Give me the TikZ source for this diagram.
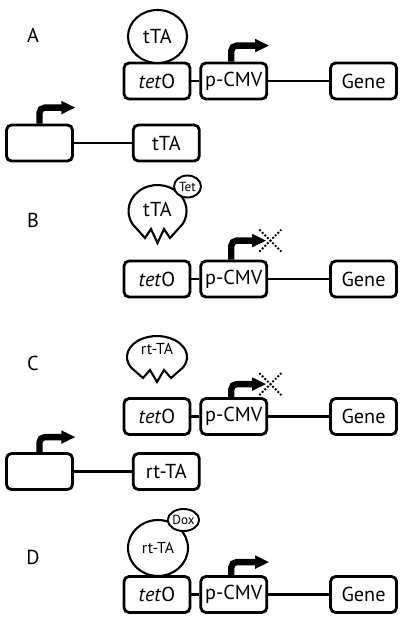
\documentclass[tikz,border=0pt]{standalone}
\usepackage{fontspec}
\setmainfont{PT Sans}
\usetikzlibrary{shapes.geometric, arrows.meta, positioning}
\tikzstyle{part} = [rectangle, rounded corners=0.1cm, minimum width=1.32cm, minimum height=0.72cm, inner sep=0pt, text centered, draw=black, line width=1.6pt, font=\fontsize{11.5}{13}\selectfont]
\tikzstyle{protein} = [ellipse, draw=black, line width=1.2pt, inner sep=0pt, fill=white, font=\fontsize{11.5}{13}\selectfont]
\tikzstyle{drug} = [ellipse, draw=black, line width=1.1pt, inner sep=0pt, fill=white, minimum width=0.54cm, minimum height=0.44cm, font=\fontsize{7.5}{8}\selectfont]
\tikzstyle{pacman} = [draw=black, line width=1.2pt]
\tikzstyle{link} = [line width=1.4pt]
\tikzstyle{prom} = [line width=3.6pt, rounded corners=3pt, -{Triangle[length=8pt,width=7pt]}]
\tikzstyle{block} = [densely dotted, line width=1.1pt]
\tikzstyle{panel} = [font=\fontsize{11.5}{13}\selectfont]

\begin{document}
\begin{tikzpicture}[x=0.02cm, y=0.02cm]
	\useasboundingbox (0,0) rectangle (400,-619);
	% A
	\node[panel] (labA) at (33,-35) {A};
	\node[part] (tetA) at (157,-81) {\textit{tet}O};
	\node[part, right=0.16cm of tetA] (cmvA) {p-CMV};
	\node[part, right=1.22cm of cmvA] (geneA) {Gene};
	\node[protein, minimum width=1.18cm, minimum height=1.06cm] (ttaA) at (157.5,-36.5) {tTA};
	\draw[link] (tetA) -- (cmvA);
	\draw[link] (cmvA) -- (geneA);
	\draw[prom] ([xshift=-0.05cm]cmvA.north) |- ++(38,16) coordinate (tipA);
	\node[part] (promA) at (39.5,-143) {};
	\node[part, right=1.16cm of promA] (ttaboxA) {tTA};
	\draw[link] (promA) -- (ttaboxA);
	\draw[prom] (promA.north) |- ++(36,16) coordinate (tipA2);
	% B
	\node[panel] (labB) at (33,-220) {B};
	\node[part] (tetB) at (157,-279) {\textit{tet}O};
	\node[part, right=0.16cm of tetB] (cmvB) {p-CMV};
	\node[part, right=1.22cm of cmvB] (geneB) {Gene};
	\draw[pacman] (132.4,-224) arc[start angle=210, end angle=-30, x radius=29, y radius=26]
		-- (170,-238) -- (164,-229) -- (157.5,-243) -- (151,-229) -- (145,-238) -- cycle;
	\node[panel] (ttaB) at (157.5,-209) {tTA};
	\node[drug] (tetdrugB) at (187.5,-186.5) {Tet};
	\draw[link] (tetB) -- (cmvB);
	\draw[link] (cmvB) -- (geneB);
	\draw[prom] ([xshift=-0.05cm]cmvB.north) |- ++(35,19) coordinate (tipB);
	\draw[block] (tipB) ++(-7,11) -- ++(22,-22) (tipB) ++(-7,-11) -- ++(22,22);
	% C
	\node[panel] (labC) at (33,-363) {C};
	\node[part] (tetC) at (157,-416.5) {\textit{tet}O};
	\node[part, right=0.16cm of tetC] (cmvC) {p-CMV};
	\node[part, right=1.22cm of cmvC] (geneC) {Gene};
	\draw[pacman] (131,-367.5) arc[start angle=210, end angle=-30, x radius=30, y radius=21]
		-- (171,-378) -- (164,-370) -- (157,-382) -- (150,-370) -- (143,-378) -- cycle;
	\node[font=\fontsize{9}{10}\selectfont] (rtaC) at (157,-349) {rt-TA};
	\draw[link] (tetC) -- (cmvC);
	\draw[link] (cmvC) -- (geneC);
	\draw[prom] ([xshift=-0.05cm]cmvC.north) |- ++(35,13) coordinate (tipC);
	\draw[block] (tipC) ++(-7,11) -- ++(22,-22) (tipC) ++(-7,-11) -- ++(22,22);
	\node[part] (promC) at (39.5,-471.5) {};
	\node[part, right=1.16cm of promC] (rtaboxC) {rt-TA};
	\draw[link] (promC) -- (rtaboxC);
	\draw[prom] (promC.north) |- ++(36,15) coordinate (tipC2);
	% D
	\node[panel] (labD) at (33,-557) {D};
	\node[part] (tetD) at (157,-594.5) {\textit{tet}O};
	\node[part, right=0.16cm of tetD] (cmvD) {p-CMV};
	\node[part, right=1.22cm of cmvD] (geneD) {Gene};
	\node[protein, minimum width=1.2cm, minimum height=1.12cm, font=\fontsize{9}{10}\selectfont] (rtaD) at (158,-548) {rt-TA};
	\node[drug] (doxD) at (183.5,-520) {Dox};
	\draw[link] (tetD) -- (cmvD);
	\draw[link] (cmvD) -- (geneD);
	\draw[prom] ([xshift=-0.05cm]cmvD.north) |- ++(38,13) coordinate (tipD);
\end{tikzpicture}
\end{document}
